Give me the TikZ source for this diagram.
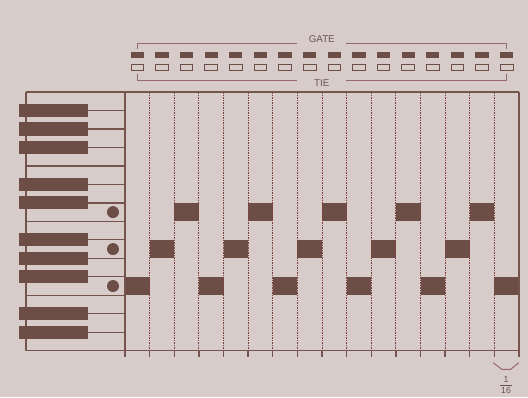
\documentclass[tikz,border=0pt]{standalone}
\usepackage{fontspec}
\setmainfont{Liberation Sans}
\definecolor{bg}{HTML}{D8CCCB}
\definecolor{dk}{HTML}{6D4E47}
\definecolor{ln}{HTML}{75544E}
\definecolor{dsh}{HTML}{7C403D}
\definecolor{brk}{HTML}{966868}
\definecolor{txt}{HTML}{675350}
\begin{document}
\begin{tikzpicture}[x=1pt,y=-1pt,
  gridline/.style={draw=ln,line width=1.3pt},
  dashline/.style={draw=dsh,line width=1pt,dash pattern=on 1.5pt off 1pt},
  keyfill/.style={fill=dk},
  bracket/.style={draw=brk,line width=1pt},
  lbl/.style={text=txt,inner sep=0pt,font=\fontsize{9.8}{10}\selectfont},
  frac/.style={text=txt,inner sep=0pt,font=\fontsize{8.8}{9}\selectfont}]
\fill[bg] (0,0) rectangle (528,397);
\useasboundingbox (0,0) rectangle (528,397);
\def\W{24.625}
\def\H{18.48}
% note blocks
\foreach \c in {0,...,15}{
  \pgfmathsetmacro{\r}{10-2*mod(\c,3)}
  \fill[dk] ({125+\c*\W},{92+\r*\H}) rectangle ({125+(\c+1)*\W},{92+(\r+1)*\H});
}
% dashed column separators
\foreach \c in {1,...,15}{
  \draw[dashline] ({125+\c*\W},92) -- ({125+\c*\W},350.7);
  \draw[gridline] ({125+\c*\W},350.7) -- ({125+\c*\W},357);
}
% grid frame
\draw[gridline] (125,92) -- (125,357);
\draw[gridline] (519,92) -- (519,357);
\draw[gridline] (26,92) -- (519,92);
\draw[gridline] (26,350.7) -- (519,350.7);
\draw[gridline] (26,92) -- (26,350.7);
% keyboard full lines
\foreach \k in {4,7,11}{
  \draw[gridline] (26,{92+\k*\H}) -- (125,{92+\k*\H});
}
% black keys and their lines
\foreach \k in {1,2,3,5,6,8,9,10,12,13}{
  \draw[gridline] (88,{92+\k*\H}) -- (125,{92+\k*\H});
  \fill[dk] (19.3,{92+\k*\H-6.6}) rectangle (88.3,{92+\k*\H+6.6});
}
% dots
\foreach \r in {6,8,10}{
  \fill[dk] (113,{92+(\r+0.5)*\H}) circle (6);
}
% gate and tie boxes
\foreach \c in {0,...,15}{
  \pgfmathsetmacro{\xc}{125+(\c+0.5)*\W}
  \fill[dk] ({\xc-6.6},51.7) rectangle ({\xc+6.6},58.3);
  \draw[dk,line width=0.9pt] ({\xc-6.3},64.6) rectangle ({\xc+6.3},70);
}
% brackets
\pgfmathsetmacro{\xl}{125+0.5*\W}
\pgfmathsetmacro{\xr}{125+15.5*\W}
\node[lbl] (gate) at (321.8,39.3) {GATE};
\node[lbl] (tie) at (321.8,83.5) {TIE};
\draw[bracket] (\xl,49) -- (\xl,43.3) -- (297,43.3);
\draw[bracket] (346,43.3) -- (\xr,43.3) -- (\xr,49);
\draw[bracket] (\xl,73.5) -- (\xl,80) -- (297,80);
\draw[bracket] (346,80) -- (\xr,80) -- (\xr,73.5);
% 1/16 marker
\draw[bracket] (493.3,362.7) -- (501.7,369.3) -- (510.7,369.3) -- (518.7,362.7);
\node[frac] (num) at (506,379) {1};
\draw[draw=txt,line width=0.8pt] (500,385) -- (512,385);
\node[frac] (den) at (506,390) {16};
\end{tikzpicture}
\end{document}
